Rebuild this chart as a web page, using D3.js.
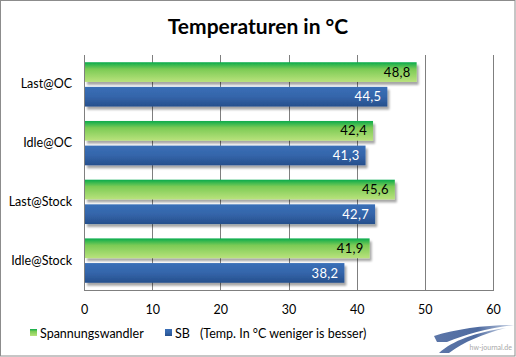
<!DOCTYPE html>
<html><head><meta charset="utf-8">
<script src="https://cdn.jsdelivr.net/npm/d3@7/dist/d3.min.js"></script>
<style>
html,body{margin:0;padding:0;background:#fff;}
svg{display:block;}
text{font-family:Lato,"Open Sans",sans-serif;}
</style></head>
<body>
<script>
const categories = ["Last@OC","Idle@OC","Last@Stock","Idle@Stock"];
const seriesNames = ["Spannungswandler","SB"];
const spannungswandler = [48.8, 42.4, 45.6, 41.9];
const sb = [44.5, 41.3, 42.7, 38.2];
const xTicks = [0,10,20,30,40,50,60];
const title = "Temperaturen in °C";
const legendNote = "(Temp. In °C weniger is besser)";

(function(){
const W = 516, H = 357;
const svg = d3.select("body").append("svg").attr("width", W).attr("height", H);
const defs = svg.append("defs");

const gG = defs.append("linearGradient").attr("id","gGreen").attr("x1",0).attr("y1",0).attr("x2",0).attr("y2",1);
gG.append("stop").attr("offset","0%").attr("stop-color","#0aab4c");
gG.append("stop").attr("offset","35%").attr("stop-color","#7ccb55");
gG.append("stop").attr("offset","100%").attr("stop-color","#b9e27c");
const gB = defs.append("linearGradient").attr("id","gBlue").attr("x1",0).attr("y1",0).attr("x2",0).attr("y2",1);
gB.append("stop").attr("offset","0%").attr("stop-color","#3a6fb7");
gB.append("stop").attr("offset","50%").attr("stop-color","#3465aa");
gB.append("stop").attr("offset","100%").attr("stop-color","#264f8c");
const gL = defs.append("linearGradient").attr("id","gLogo").attr("x1",0).attr("y1",0).attr("x2",1).attr("y2",0);
gL.append("stop").attr("offset","0%").attr("stop-color","#5c76a8");
gL.append("stop").attr("offset","55%").attr("stop-color","#4f6ba0");
gL.append("stop").attr("offset","100%").attr("stop-color","#c8d3e6");

const shadow = defs.append("filter").attr("id","sh").attr("x","-5%").attr("y","-20%").attr("width","115%").attr("height","160%");
shadow.append("feGaussianBlur").attr("in","SourceAlpha").attr("stdDeviation",1.2);
shadow.append("feOffset").attr("dx",1.5).attr("dy",2.5).attr("result","b");
shadow.append("feComponentTransfer").append("feFuncA").attr("type","linear").attr("slope",0.35);
const m = shadow.append("feMerge"); m.append("feMergeNode"); m.append("feMergeNode").attr("in","SourceGraphic");

svg.append("rect").attr("x",0.5).attr("y",0.5).attr("width",W-1.5).attr("height",H-1.5)
  .attr("fill","#fff").attr("stroke","#8c8c8c").attr("stroke-width",1);

svg.append("text").attr("x",258).attr("y",34).attr("text-anchor","middle")
  .attr("font-size",21).attr("font-weight","bold").attr("fill","#000").text(title);

const pL = 84, pR = 493, pT = 55, pB = 290;
const x = d3.scaleLinear().domain([0,60]).range([pL,pR]);
const y = d3.scaleBand().domain(categories).range([pT,pB]).paddingInner(0.245).paddingOuter(0.123);
const sub = d3.scaleBand().domain(seriesNames).range([0,y.bandwidth()]).paddingInner(0.2);

svg.append("g").selectAll("line").data(xTicks.filter(d=>d>0)).join("line")
  .attr("x1",d=>Math.round(x(d))+0.5).attr("x2",d=>Math.round(x(d))+0.5)
  .attr("y1",pT).attr("y2",pB).attr("stroke","#7f7f7f").attr("stroke-width",1);

svg.append("line").attr("x1",pL+0.5).attr("x2",pL+0.5).attr("y1",pT).attr("y2",pB+0.5).attr("stroke","#7f7f7f");
svg.append("line").attr("x1",pL).attr("x2",Math.round(pR)+1).attr("y1",pB+0.5).attr("y2",pB+0.5).attr("stroke","#7f7f7f");

const xAxis = svg.append("g").attr("transform",`translate(0,${pB+12})`)
  .call(d3.axisBottom(x).tickValues(xTicks).tickSize(0).tickFormat(d3.format("d")));
xAxis.select(".domain").remove();
xAxis.selectAll("text").attr("font-size",12.5).attr("fill","#000").attr("font-family","Lato,'Open Sans',sans-serif");

const yAxis = svg.append("g").attr("transform",`translate(${pL-12},0)`)
  .call(d3.axisLeft(y).tickSize(0).tickPadding(0));
yAxis.select(".domain").remove();
yAxis.selectAll("text").attr("font-size",12.5).attr("fill","#000").attr("font-family","Lato,'Open Sans',sans-serif");

const rows = categories.map((c,i)=>({cat:c, vals:[
  {s:seriesNames[0], v:spannungswandler[i]},
  {s:seriesNames[1], v:sb[i]}]}));

const fills = {[seriesNames[0]]:"url(#gGreen)", [seriesNames[1]]:"url(#gBlue)"};
const labelColor = {[seriesNames[0]]:"#000", [seriesNames[1]]:"#fff"};

const grp = svg.append("g").selectAll("g").data(rows).join("g")
  .attr("transform",d=>`translate(0,${y(d.cat)})`);
grp.selectAll("rect").data(d=>d.vals).join("rect")
  .attr("x",x(0)+1).attr("y",d=>sub(d.s)).attr("height",sub.bandwidth())
  .attr("width",d=>x(d.v)-x(0)-1).attr("fill",d=>fills[d.s]).attr("filter","url(#sh)");
grp.selectAll("text").data(d=>d.vals).join("text")
  .attr("x",d=>x(d.v)-6).attr("y",d=>sub(d.s)+sub.bandwidth()/2).attr("dy","0.36em")
  .attr("text-anchor","end").attr("font-size",13).attr("letter-spacing","0.3px").attr("fill",d=>labelColor[d.s])
  .text(d=>d3.format(".1f")(d.v).replace(".",","));

const lg = svg.append("g").attr("transform","translate(0,333)");
lg.append("rect").attr("x",30).attr("y",-4).attr("width",7).attr("height",7).attr("fill","url(#gGreen)");
lg.append("text").attr("x",40).attr("y",0).attr("dy","0.36em").attr("font-size",12.5).text(seriesNames[0]);
lg.append("rect").attr("x",165).attr("y",-4).attr("width",7).attr("height",7).attr("fill","url(#gBlue)");
lg.append("text").attr("x",175).attr("y",0).attr("dy","0.36em").attr("font-size",12.5).text(seriesNames[1]);
lg.append("text").attr("x",200).attr("y",0).attr("dy","0.36em").attr("font-size",12.5).text(legendNote);

const logo = svg.append("g");
logo.append("path").attr("d","M434,336 C456,329 486,325 514,325 C490,328 466,334 447,342 L437,342 Z").attr("fill","url(#gLogo)");
logo.append("path").attr("d","M439,353 C452,341 476,332 506,328 C482,334 464,342 449,353 Z").attr("fill","url(#gLogo)");
logo.append("text").attr("x",512).attr("y",350).attr("text-anchor","end").attr("font-size",7).attr("fill","#a8a8a8").text("hw-journal.de");
})();
</script>
</body></html>
